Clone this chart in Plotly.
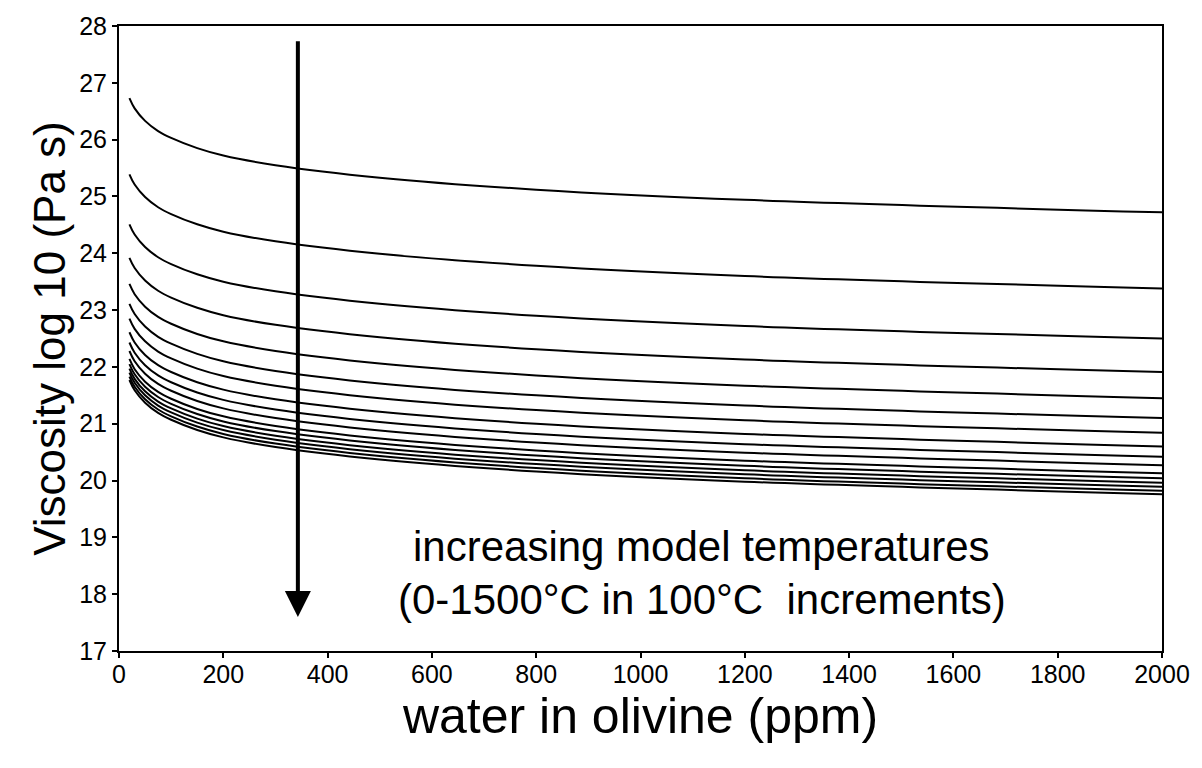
import plotly.graph_objects as go

# water content in olivine (ppm)
water_ppm = [20, 30, 50, 75, 100, 150, 200, 300, 500, 800, 1200, 2000]

# viscosity log10 (Pa s), one curve per model temperature
temps_C = [0, 100, 200, 300, 400, 500, 600, 700, 800, 900, 1000, 1100, 1200, 1300, 1400, 1500]
visc_0 = [26.73, 26.55, 26.33, 26.15, 26.03, 25.85, 25.72, 25.55, 25.33, 25.12, 24.94, 24.72]
visc_100 = [25.39, 25.21, 24.99, 24.81, 24.69, 24.51, 24.38, 24.21, 23.99, 23.78, 23.60, 23.38]
visc_200 = [24.51, 24.33, 24.11, 23.93, 23.81, 23.63, 23.50, 23.33, 23.11, 22.90, 22.72, 22.50]
visc_300 = [23.92, 23.74, 23.52, 23.34, 23.22, 23.04, 22.91, 22.74, 22.52, 22.31, 22.13, 21.91]
visc_400 = [23.46, 23.28, 23.06, 22.88, 22.76, 22.58, 22.45, 22.28, 22.06, 21.85, 21.67, 21.45]
visc_500 = [23.11, 22.93, 22.71, 22.53, 22.41, 22.23, 22.10, 21.93, 21.71, 21.50, 21.32, 21.10]
visc_600 = [22.85, 22.67, 22.45, 22.27, 22.15, 21.97, 21.84, 21.67, 21.45, 21.24, 21.06, 20.84]
visc_700 = [22.61, 22.43, 22.21, 22.03, 21.91, 21.73, 21.60, 21.43, 21.21, 21.00, 20.82, 20.60]
visc_800 = [22.43, 22.25, 22.03, 21.85, 21.73, 21.55, 21.42, 21.25, 21.03, 20.82, 20.64, 20.42]
visc_900 = [22.28, 22.10, 21.88, 21.70, 21.58, 21.40, 21.27, 21.10, 20.88, 20.67, 20.49, 20.27]
visc_1000 = [22.14, 21.96, 21.74, 21.56, 21.44, 21.26, 21.13, 20.96, 20.74, 20.53, 20.35, 20.13]
visc_1100 = [22.05, 21.87, 21.65, 21.47, 21.35, 21.17, 21.04, 20.87, 20.65, 20.44, 20.26, 20.04]
visc_1200 = [21.97, 21.79, 21.57, 21.39, 21.27, 21.09, 20.96, 20.79, 20.57, 20.36, 20.18, 19.96]
visc_1300 = [21.90, 21.72, 21.50, 21.32, 21.20, 21.02, 20.89, 20.72, 20.50, 20.29, 20.11, 19.89]
visc_1400 = [21.83, 21.65, 21.43, 21.25, 21.13, 20.95, 20.82, 20.65, 20.43, 20.22, 20.04, 19.82]
visc_1500 = [21.77, 21.59, 21.37, 21.19, 21.07, 20.89, 20.76, 20.59, 20.37, 20.16, 19.98, 19.76]

curves = [visc_0, visc_100, visc_200, visc_300, visc_400, visc_500, visc_600, visc_700,
          visc_800, visc_900, visc_1000, visc_1100, visc_1200, visc_1300, visc_1400, visc_1500]

# arrow position (data coords)
arrow_x = 343
arrow_y_top = 27.76
arrow_y_tip = 17.6

# label positions (data coords)
label_x = 1117
label_y1 = 18.84
label_y2 = 17.9

x_ticks = [0, 200, 400, 600, 800, 1000, 1200, 1400, 1600, 1800, 2000]
y_ticks = list(range(17, 29))

FONT = "Liberation Sans, Arial, sans-serif"

fig = go.Figure()
for t, vals in zip(temps_C, curves):
    fig.add_trace(go.Scatter(x=water_ppm, y=vals, mode="lines", name=f"{t} °C",
                             line=dict(color="black", width=2, shape="spline", smoothing=1.0),
                             showlegend=False, hoverinfo="skip"))

fig.add_annotation(x=arrow_x, y=arrow_y_tip, ax=arrow_x, ay=arrow_y_top,
                   xref="x", yref="y", axref="x", ayref="y", text="",
                   showarrow=True, arrowhead=2, arrowsize=1.3, arrowwidth=4, arrowcolor="black")

fig.add_annotation(x=label_x, y=label_y1, xref="x", yref="y", text="increasing model temperatures",
                   showarrow=False, font=dict(family=FONT, size=42, color="black"),
                   xanchor="center", yanchor="middle")
fig.add_annotation(x=label_x, y=label_y2, xref="x", yref="y", text="(0-1500°C in 100°C  increments)",
                   showarrow=False, font=dict(family=FONT, size=42, color="black"),
                   xanchor="center", yanchor="middle")

axis_common = dict(showline=True, linecolor="black", linewidth=2, mirror=True,
                   ticks="outside", ticklen=5, tickwidth=1.5, tickcolor="black",
                   showgrid=False, zeroline=False,
                   tickfont=dict(family=FONT, size=25, color="black"))

fig.update_xaxes(range=[0, 2000], tickvals=x_ticks, ticktext=[str(v) for v in x_ticks],
                 ticklabelstandoff=-5,
                 title=dict(text="water in olivine (ppm)", font=dict(family=FONT, size=50, color="black"),
                            standoff=10),
                 **axis_common)
fig.update_yaxes(range=[17, 28], tickvals=y_ticks, ticktext=[str(v) for v in y_ticks],
                 title=dict(text="Viscosity log 10 (Pa s)", font=dict(family=FONT, size=44, color="black"),
                            standoff=0),
                 **axis_common)

fig.update_layout(width=1202, height=768, paper_bgcolor="white", plot_bgcolor="white",
                  margin=dict(l=119, r=40, t=23, b=117), showlegend=False)

fig.write_html("out.html")
